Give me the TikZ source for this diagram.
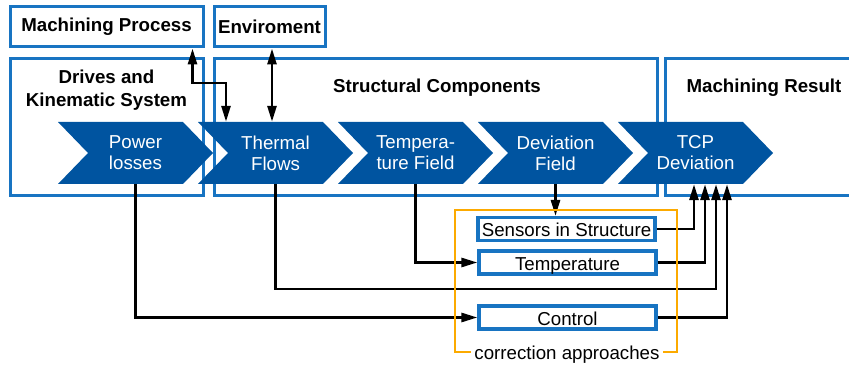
\documentclass[tikz,border=0pt]{standalone}
\usepackage{fontspec}
\setmainfont{Liberation Sans}
\usetikzlibrary{arrows.meta,calc}
\definecolor{chevblue}{RGB}{0,84,160}
\definecolor{boxblue}{RGB}{24,116,194}
\definecolor{corrorange}{RGB}{252,170,0}
\begin{document}
\begin{tikzpicture}[x=1pt,y=-1pt,
  lbl/.style={font=\fontsize{18.7}{23}\selectfont\bfseries, align=center, inner sep=0pt},
  txt/.style={font=\fontsize{18.7}{22}\selectfont},
  frame/.style={draw=boxblue, line width=3pt, inner sep=0pt},
  smallbox/.style={draw=boxblue, line width=3.2pt, minimum width=177pt, minimum height=23pt, inner sep=0pt, text height=16pt, text depth=0pt, font=\fontsize{18.7}{22}\selectfont},
  chev/.style={minimum width=125pt, minimum height=62pt, inner sep=0pt, text=white, align=center, font=\fontsize{18.7}{21}\selectfont},
  conn/.style={line width=2.7pt, -{Triangle[length=16pt,width=9pt]}},
  dbl/.style={line width=2.7pt, {Triangle[length=16pt,width=9pt]}-{Triangle[length=16pt,width=9pt]}},
  corrline/.style={draw=corrorange, line width=2.8pt}]
\useasboundingbox (0,0) rectangle (849,366);

% top boxes
\node[frame, lbl, minimum width=193pt, minimum height=40pt] (mp) at (106.5,27) {Machining Process};
\node[frame, lbl, minimum width=111pt, minimum height=40pt] (env) at (269.5,27) {Enviroment};

% main frames
\node[frame, minimum width=193pt, minimum height=137pt] (drv) at (106.5,127.5) {};
\node[frame, minimum width=443pt, minimum height=137pt] (sc) at (435.5,127.5) {};
\node[frame, minimum width=197pt, minimum height=137pt] (mr) at (763.5,127.5) {};
\node[lbl] (drvl) at (106.5,90) {Drives and\\Kinematic System};
\node[lbl] (scl) at (437,88) {Structural Components};
\node[lbl] (mrl) at (764,88) {Machining Result};

% chevrons
\foreach \n/\x/\t in {pl/58/{Power\\losses}, tf/198/{Thermal\\Flows}, tfld/338/{Tempera-\\ture Field}, dev/478/{Deviation\\Field}, tcp/618/{TCP\\Deviation}} {
  \fill[chevblue] (\x,122) -- ++(125,0) -- ++(30,31) -- ++(-30,31) -- ++(-125,0) -- ++(30,-31) -- cycle;
  \node[chev] (\n) at (\x+77.5,153) {\t};
}

% correction approaches text and boxes
\node[txt] (corr) at (567,355) {correction approaches};
\node[smallbox] (sens) at (566.5,229) {Sensors in Structure};
\node[smallbox] (temp) at (567.5,262.5) {Temperature};
\node[smallbox] (ctrl) at (567.5,317.5) {Control};

% upper connectors
\coordinate (mpk) at (226,83);
\draw[dbl] ([xshift=-12pt]mp.south east) |- (mpk) -- (mpk |- tf.north);
\draw[dbl] ([xshift=2.5pt]env.south) -- ([xshift=2.5pt]env.south |- tf.north);

% lower connectors
\draw[conn] (dev.south) -- (dev.south |- sens.north);
\draw[conn] (tfld.south) |- (temp.west);
\draw[conn] (pl.south) |- (ctrl.west);
\coordinate (thc) at (716,289);
\draw[conn] (tf.south) |- (thc) -- (thc |- tcp.south);
\draw[conn] (sens.east) -| ([xshift=-1.5pt]tcp.south);
\draw[conn] (temp.east) -| ([xshift=9.5pt]tcp.south);
\draw[conn] (ctrl.east) -| ([xshift=31.5pt]tcp.south);

% orange bracket
\coordinate (oa) at (455,210);
\coordinate (ob) at (677,352);
\draw[corrline] (corr.west |- ob) -- (oa |- ob) -- (oa) -- (ob |- oa) -- (ob) -- (corr.east |- ob);
\end{tikzpicture}
\end{document}
